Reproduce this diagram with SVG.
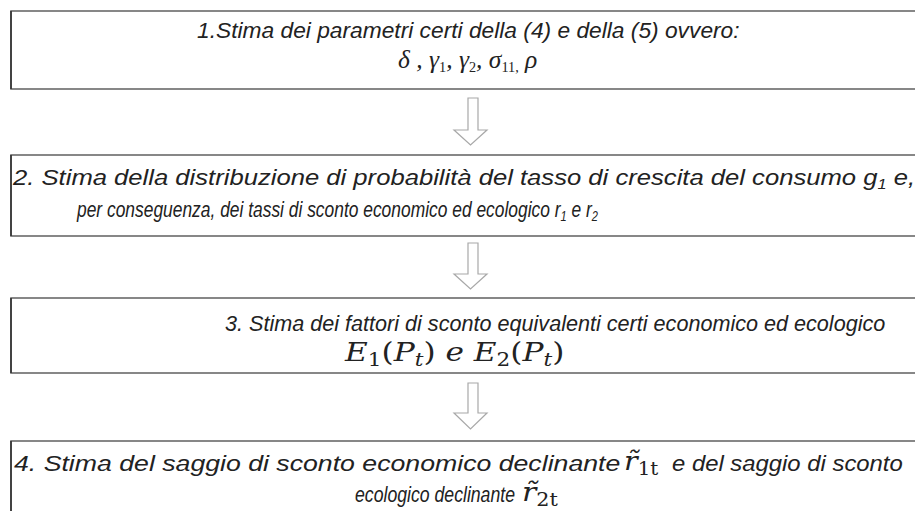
<svg xmlns="http://www.w3.org/2000/svg" width="915" height="511" viewBox="0 0 915 511">
<style>
.box{fill:#fff;stroke:#6a6a6a;stroke-width:1.6}
.edge{stroke:#333;stroke-width:1.6}
.t{font-family:"Liberation Sans","DejaVu Sans",sans-serif;font-style:italic;font-size:22px;fill:#222}
.m{font-family:"Liberation Serif","DejaVu Serif",serif;font-style:italic;font-size:25px;fill:#222}
.c{font-family:"DejaVu Serif","Liberation Serif",serif;font-style:italic;font-size:26px;fill:#222}
.u{font-style:normal}
.sub{font-size:14px}
.s2{font-size:18px}
.arrow{fill:#fff;stroke:#a8a8a8;stroke-width:1.2}
</style>
<rect width="915" height="511" fill="#fff"/>
<g id="connectors">
<path class="arrow" d="M468,98 H478 V130 H487 L470.5,145 L454,130 H468 Z"/>
<path class="arrow" d="M468,243 H478 V274 H487 L470.5,289 L454,274 H468 Z"/>
<path class="arrow" d="M468,383 H478 V413 H487 L470.5,429 L454,413 H468 Z"/>
</g>
<g id="node1">
<rect class="box" x="11" y="11" width="920" height="78"/>
<line class="edge" x1="11" y1="11" x2="11" y2="89"/>
<text class="t" transform="translate(197,38) scale(1.035,1)">1.Stima dei parametri certi della (4) e della (5) ovvero:</text>
<text class="m" transform="translate(398,68) scale(1.02,1)">δ , γ<tspan class="sub u" dy="4">1</tspan><tspan dy="-4">, γ</tspan><tspan class="sub u" dy="4">2</tspan><tspan dy="-4">, σ</tspan><tspan class="sub u" dy="4">11,</tspan><tspan dy="-4"> ρ</tspan></text>
</g>
<g id="node2">
<rect class="box" x="11" y="155" width="920" height="81"/>
<line class="edge" x1="11" y1="155" x2="11" y2="236"/>
<text class="t" transform="translate(13,185) scale(1.165,1)">2. Stima della distribuzione di probabilità del tasso di crescita del consumo g<tspan class="sub" dy="4">1</tspan><tspan dy="-4"> e,</tspan></text>
<text class="t" transform="translate(77,217) scale(0.791,1)">per conseguenza, dei tassi di sconto economico ed ecologico r<tspan class="sub" dy="4">1</tspan><tspan dy="-4"> e r</tspan><tspan class="sub" dy="4">2</tspan></text>
</g>
<g id="node3">
<rect class="box" x="11" y="298" width="920" height="75"/>
<line class="edge" x1="11" y1="298" x2="11" y2="373"/>
<text class="t" transform="translate(225,331) scale(0.982,1)">3. Stima dei fattori di sconto equivalenti certi economico ed ecologico</text>
<text class="c" transform="translate(345,361) scale(1.2,1)">E<tspan class="s2 u" dy="5">1</tspan><tspan class="u" dy="-5">(</tspan>P<tspan class="s2" dy="5">t</tspan><tspan class="u" dy="-5">)</tspan> e E<tspan class="s2 u" dy="5">2</tspan><tspan class="u" dy="-5">(</tspan>P<tspan class="s2" dy="5">t</tspan><tspan class="u" dy="-5">)</tspan></text>
</g>
<g id="node4">
<rect class="box" x="11" y="441" width="920" height="90"/>
<line class="edge" x1="11" y1="441" x2="11" y2="520"/>
<text class="t" transform="translate(14,471) scale(1.213,1)">4. Stima del saggio di sconto economico declinante</text>
<text class="c" transform="translate(624,470) scale(1.1,1)">r̃<tspan class="s2 u" dy="5">1t</tspan></text>
<text class="t" transform="translate(672,471) scale(1.085,1)">e del saggio di sconto</text>
<text class="t" transform="translate(355,502) scale(0.803,1)">ecologico declinante</text>
<text class="c" transform="translate(522,501) scale(1.15,1)">r̃<tspan class="s2 u" dy="5">2t</tspan></text>
</g>
</svg>
